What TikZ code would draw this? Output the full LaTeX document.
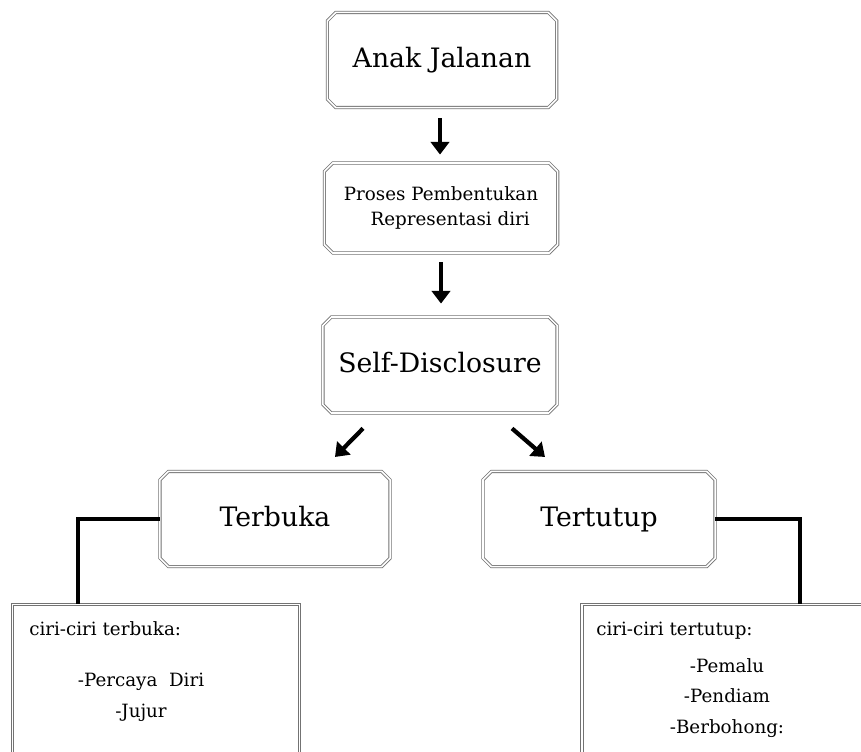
\documentclass[tikz,border=0pt]{standalone}
\usepackage{fontspec}
\setmainfont{DejaVu Serif}
\usepackage{tikz}
\usetikzlibrary{arrows.meta,positioning,shapes.misc,calc}

\begin{document}
\begin{tikzpicture}[
  x=0.025cm, y=-0.025cm,
  box/.style={chamfered rectangle, chamfered rectangle xsep=3pt, chamfered rectangle ysep=3pt, draw=black!55, double=white, double distance=1.1pt, line width=0.6pt, fill=white, align=center, inner sep=0pt},
  bigtxt/.style={font=\fontsize{19}{22}\selectfont, text height=1.0em, text depth=0pt},
  smalltxt/.style={font=\fontsize{13}{18}\selectfont},
  listtxt/.style={font=\fontsize{13}{21.5}\selectfont, align=center, inner sep=0pt},
  arr/.style={-{Triangle[length=9pt, width=13pt]}, line width=3pt},
  link/.style={line width=2.8pt}
]
\clip (0,0) rectangle (861,751);

% Top: street children
\node[box, bigtxt, minimum width=5.73cm, minimum height=2.38cm] (anak) at (442,60) {Anak Jalanan};

% Process
\node[box, smalltxt, minimum width=5.83cm, minimum height=2.25cm] (proses) at (441,208) {Proses Pembentukan\\\hspace*{1em}Representasi diri};
\draw[arr] ([shift={(-2,10)}]anak.south) -- ([shift={(-1,-8)}]proses.north);

% Self-disclosure
\node[box, bigtxt, minimum width=5.85cm, minimum height=2.4cm] (self) at (440,365) {Self-Disclosure};
\draw[arr] ([shift={(0,9)}]proses.south) -- ([shift={(1,-13)}]self.north);

% Two branches
\node[box, bigtxt, minimum width=5.75cm, minimum height=2.38cm] (terbuka) at (275,519) {Terbuka};
\node[box, bigtxt, minimum width=5.8cm, minimum height=2.38cm] (tertutup) at (599,519) {Tertutup};
\draw[arr] ([shift={(-77,15)}]self.south) -- ([shift={(60,-14)}]terbuka.north);
\draw[arr] ([shift={(72,15)}]self.south) -- ([shift={(-54,-14)}]tertutup.north);

% Characteristics boxes
\node[box, minimum width=7.18cm, minimum height=3.88cm] (ciriL) at (156,682) {};
\node[box, minimum width=7.2cm, minimum height=3.88cm] (ciriR) at (726,682) {};

\node[smalltxt, anchor=base west, inner sep=0pt] (headL) at (29,635) {ciri-ciri terbuka:};
\node[listtxt, anchor=base] (listL) at (141,717) {-Percaya~~Diri\\-Jujur};
\node[smalltxt, anchor=base west, inner sep=0pt] (headR) at (596,635) {ciri-ciri tertutup:};
\node[listtxt, anchor=base] (listR) at (727,733) {-Pemalu\\-Pendiam\\-Berbohong:};

% Connectors
\coordinate (jL) at (78,605);
\coordinate (jR) at (800,605);
\draw[link] (terbuka.west) -| (jL |- ciriL.north);
\draw[link] (tertutup.east) -| (jR |- ciriR.north);

\end{tikzpicture}
\end{document}
